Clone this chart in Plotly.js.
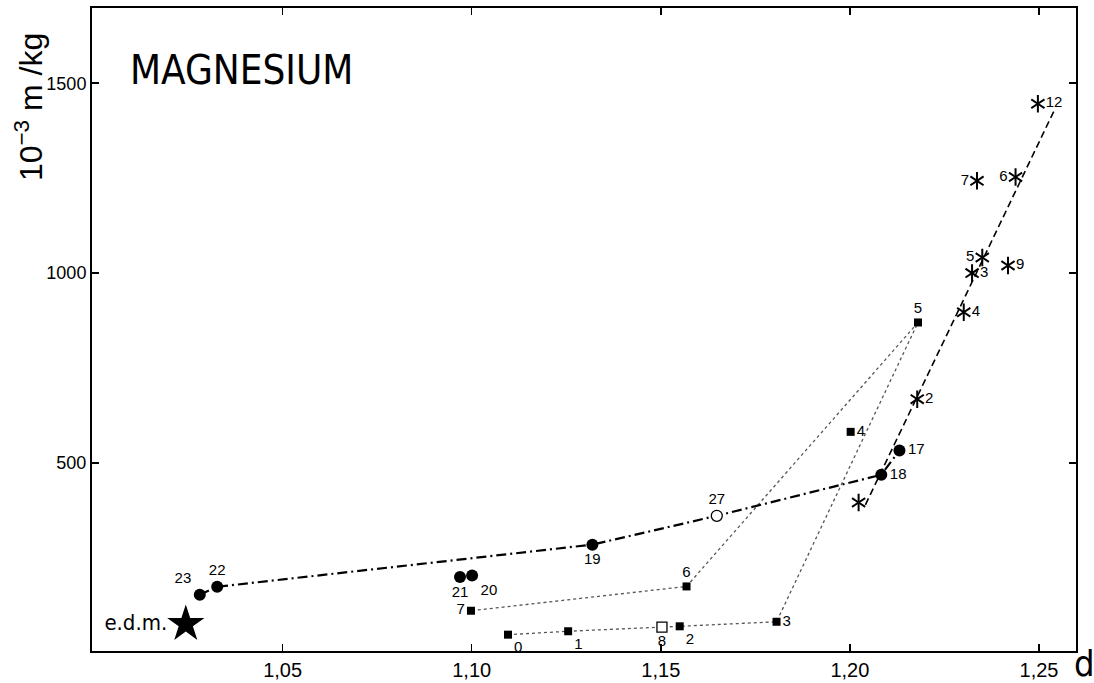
<!DOCTYPE html>
<html>
<head>
<meta charset="utf-8">
<script src="https://cdn.plot.ly/plotly-3.0.1.min.js"></script>
<style>html,body{margin:0;padding:0;background:#fff;}#chart{width:1094px;height:683px;}</style>
</head>
<body>
<div id="chart"></div>
<script>
// ---- data ----
const circLabels = ['23', '22', '21', '20', '19', '18', '17'];
const circX = [1.0281, 1.0327, 1.0969, 1.1001, 1.1319, 1.2083, 1.2131];
const circY = [153, 174, 200, 204, 285, 469, 533];
const circPos = ['top left', 'top center', 'bottom center', 'bottom right', 'bottom center', 'middle right', 'middle right'];

const openCircLabels = ['27'];
const openCircX = [1.1648];
const openCircY = [361];

const circPath = ['23', '22', '19', '27', '18', '17'];

const sqLabels = ['0', '1', '2', '3', '4', '5', '6', '7'];
const sqX = [1.1096, 1.1255, 1.1550, 1.1806, 1.2002, 1.2180, 1.1568, 1.0998];
const sqY = [48, 57, 70, 82, 582, 870, 175, 111];
const sqPos = ['bottom right', 'bottom right', 'bottom right', 'middle right', 'middle right', 'top center', 'top center', 'middle left'];

const openSqLabels = ['8'];
const openSqX = [1.1503];
const openSqY = [68];

const sqPath = ['0', '1', '2', '3', '5', '6', '7'];

// labelled asterisks
const astLabels = ['2', '4', '3', '5', '9', '6', '7', '12'];
const astX = [1.2178, 1.2301, 1.2323, 1.2350, 1.2418, 1.2438, 1.2336, 1.2497];
const astY = [668, 897, 1000, 1041, 1020, 1253, 1243, 1446];
const astPos = ['middle right', 'middle right', 'middle right', 'middle left', 'middle right', 'middle left', 'middle left', 'middle right'];
// unlabelled asterisk
const astNoLabelX = [1.2023];
const astNoLabelY = [396];

const fitX = [1.2041, 1.2542];
const fitY = [390, 1432];

const edmLabel = ['e.d.m.'];
const edmX = [1.0244];
const edmY = [76];

const xTickVals = [1.05, 1.10, 1.15, 1.20, 1.25];
const xTickText = ['1,05', '1,10', '1,15', '1,20', '1,25'];
const yTickVals = [500, 1000, 1500];
const yTickText = ['500', '1000', '1500'];

// ---- build paths ----
const allCirc = {};
circLabels.forEach((l, i) => allCirc[l] = [circX[i], circY[i]]);
openCircLabels.forEach((l, i) => allCirc[l] = [openCircX[i], openCircY[i]]);
const allSq = {};
sqLabels.forEach((l, i) => allSq[l] = [sqX[i], sqY[i]]);

const lblFont = {family: 'Liberation Sans, Arial, sans-serif', size: 15, color: '#000'};
const narrow = 'DejaVu Sans Condensed, Liberation Sans Narrow, sans-serif';
const astAllX = astX.concat(astNoLabelX);
const astAllY = astY.concat(astNoLabelY);

const traces = [
  { // dotted square path
    x: sqPath.map(l => allSq[l][0]), y: sqPath.map(l => allSq[l][1]),
    mode: 'lines', line: {color: '#555', width: 1.3, dash: 'dot'}, hoverinfo: 'skip'
  },
  { // dashed fit through asterisks
    x: fitX, y: fitY,
    mode: 'lines', line: {color: '#000', width: 1.6, dash: '7px,4px'}, hoverinfo: 'skip'
  },
  { // dash-dot circle path
    x: circPath.map(l => allCirc[l][0]), y: circPath.map(l => allCirc[l][1]),
    mode: 'lines', line: {color: '#000', width: 2.2, dash: '10px,4px,2px,4px'}, hoverinfo: 'skip'
  },
  { // filled squares
    x: sqX, y: sqY, text: sqLabels, textposition: sqPos,
    mode: 'markers+text', marker: {symbol: 'square', size: 8, color: '#000'},
    textfont: lblFont
  },
  { // open square
    x: openSqX, y: openSqY, text: openSqLabels, textposition: 'bottom center',
    mode: 'markers+text', marker: {symbol: 'square', size: 10, color: '#fff', line: {color: '#000', width: 1.3}},
    textfont: lblFont
  },
  { // filled circles
    x: circX, y: circY, text: circLabels, textposition: circPos,
    mode: 'markers+text', marker: {symbol: 'circle', size: 12, color: '#000'},
    textfont: lblFont
  },
  { // open circle
    x: openCircX, y: openCircY, text: openCircLabels, textposition: 'top center',
    mode: 'markers+text', marker: {symbol: 'circle', size: 11, color: '#fff', line: {color: '#000', width: 1.3}},
    textfont: lblFont
  },
  { // asterisks, first half of the six arms
    x: astAllX, y: astAllY,
    mode: 'markers', marker: {symbol: 'y-up-open', size: 11, color: '#000', line: {color: '#000', width: 2}}
  },
  { // asterisks, second half of the six arms, with labels
    x: astX, y: astY, text: astLabels, textposition: astPos,
    mode: 'markers+text', marker: {symbol: 'y-down-open', size: 11, color: '#000', line: {color: '#000', width: 2}},
    textfont: lblFont
  },
  {
    x: astNoLabelX, y: astNoLabelY,
    mode: 'markers', marker: {symbol: 'y-down-open', size: 11, color: '#000', line: {color: '#000', width: 2}}
  },
  { // e.d.m. star
    x: edmX, y: edmY, text: edmLabel, textposition: 'middle left',
    mode: 'markers+text', marker: {symbol: 'star', size: 28, color: '#000'},
    textfont: {family: narrow, size: 22, color: '#000'}
  }
];

const layout = {
  width: 1094, height: 683,
  margin: {l: 92, r: 18, t: 8, b: 32},
  paper_bgcolor: '#fff', plot_bgcolor: '#fff',
  showlegend: false,
  font: {family: 'Liberation Sans, Arial, sans-serif', color: '#000'},
  xaxis: {
    range: [0.9996, 1.25978], showgrid: false, zeroline: false,
    showline: true, linecolor: '#000', linewidth: 2, mirror: 'ticks',
    ticks: 'inside', ticklen: 7, tickwidth: 1.5, tickcolor: '#000',
    tickvals: xTickVals, ticktext: xTickText,
    tickfont: {size: 20, family: 'Liberation Sans, Arial, sans-serif'}
  },
  yaxis: {
    range: [5, 1698], showgrid: false, zeroline: false,
    showline: true, linecolor: '#000', linewidth: 2, mirror: 'ticks',
    ticks: 'inside', ticklen: 7, tickwidth: 1.5, tickcolor: '#000',
    tickvals: yTickVals, ticktext: yTickText,
    tickfont: {size: 18, family: 'Liberation Sans, Arial, sans-serif'}
  },
  annotations: [
    {text: 'MAGNESIUM', xref: 'paper', yref: 'paper', x: 0.0366, y: 0.903, xanchor: 'left', yanchor: 'middle',
     showarrow: false, font: {family: narrow, size: 40, color: '#000'}},
    {text: '10<sup>\u22123</sup> m /kg', xref: 'paper', yref: 'paper', x: -0.064, y: 0.846, xanchor: 'center', yanchor: 'middle',
     textangle: -90, showarrow: false, font: {family: 'Liberation Sans, Arial, sans-serif', size: 32, color: '#000'}},
    {text: 'd', xref: 'paper', yref: 'paper', x: 1.009, y: -0.02, xanchor: 'center', yanchor: 'middle',
     showarrow: false, font: {family: narrow, size: 36, color: '#000'}}
  ]
};

Plotly.newPlot('chart', traces, layout, {displayModeBar: false, staticPlot: true});
</script>
</body>
</html>
